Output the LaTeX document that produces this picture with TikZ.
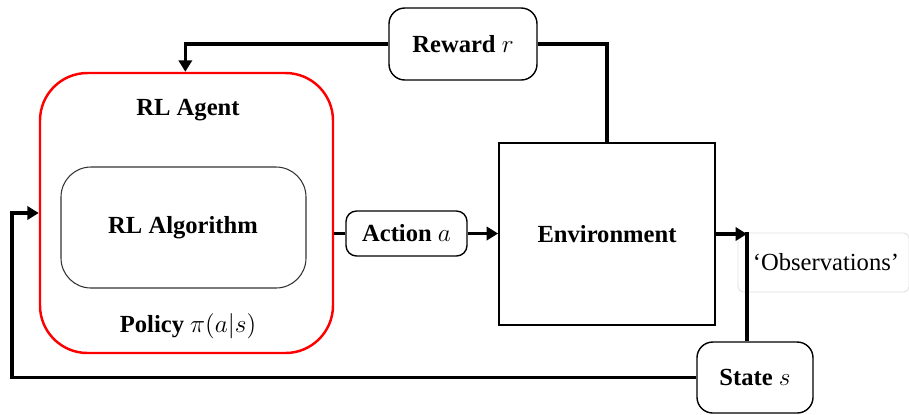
\documentclass[tikz,border=0pt]{standalone}
\usepackage{fontspec}
\setmainfont{Liberation Serif}
\usepackage{tikz}
\usetikzlibrary{positioning}
\usetikzlibrary{arrows.meta, calc}

\tikzset{
    lbl/.style={font=\fontsize{14}{17}\selectfont\bfseries},
    smallbox/.style={draw, line width=0.8pt, rounded corners=6pt, lbl, align=center, inner sep=0pt},
    flow/.style={line width=2pt},
    flowarrow/.style={flow, -{Triangle[length=6.5pt, width=7.5pt]}}
}

\begin{document}
\begin{tikzpicture}[x=0.02cm, y=-0.02cm]
        \useasboundingbox (0,0) rectangle (909,414);
        % agent with its algorithm
        \node[draw=red, line width=1.4pt, rounded corners=0.95cm, minimum width=293*0.02cm, minimum height=280*0.02cm] (agent) at (186.5,213) {};
        \node[lbl] (agentlbl) at (188,110) {RL Agent};
        \node[draw=black!80, line width=0.6pt, rounded corners=0.6cm, minimum width=245*0.02cm, minimum height=121*0.02cm] (algo) at (183.5,227.5) {};
        \node[lbl] (algolbl) at (183,228) {RL Algorithm};
        \node[lbl] (policy) at (188,326) {Policy $\pi(a|s)$};
        % environment and signals
        \node[draw, line width=1pt, minimum width=216*0.02cm, minimum height=182*0.02cm, lbl] (env) at (607,234) {Environment};
        \node[smallbox, minimum width=121*0.02cm, minimum height=45*0.02cm] (action) at (406.5,233.5) {Action $a$};
        \node[smallbox, rounded corners=9pt, minimum width=148*0.02cm, minimum height=72*0.02cm] (reward) at (463,44) {Reward $r$};
        \node[smallbox, rounded corners=9pt, minimum width=116*0.02cm, minimum height=71*0.02cm] (state) at (755,377.5) {State $s$};
        \node[draw=black!12, line width=0.5pt, rounded corners=3pt, minimum width=171*0.02cm, minimum height=59*0.02cm, font=\fontsize{14}{17}\selectfont] (obs) at (823.5,262.5) {\hspace{0.1cm}`Observations'};
        \coordinate (obstop) at (747,234);
        \coordinate (loopin) at (12,213);
        % connectors
        \draw[flow] (agent.east |- action.west) -- (action.west);
        \draw[flowarrow] (action.east) -- (env.west |- action.east);
        \draw[flow] (env.north) |- (reward.east);
        \draw[flowarrow] (reward.west) -| ($(agent.north west)!0.496!(agent.north east)$);
        \draw[flowarrow] (env.east |- obstop) -- (obstop);
        \draw[flow] ([yshift=1pt]obstop) -- (state.north -| obstop);
        \draw[flowarrow] (state.west) -| (loopin) -- (agent.west |- loopin);
    \end{tikzpicture}
\end{document}
